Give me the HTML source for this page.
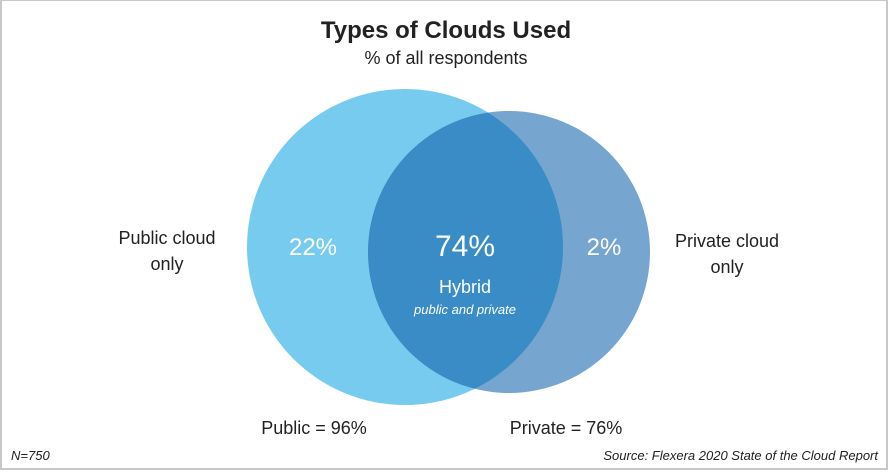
<!DOCTYPE html>
<html><head><meta charset="utf-8"><style>
html,body{margin:0;padding:0;background:#fff;}
body{width:891px;height:473px;overflow:hidden;position:relative;font-family:"Liberation Sans",sans-serif;}
</style></head><body>
<svg width="891" height="473" viewBox="0 0 891 473" xmlns="http://www.w3.org/2000/svg" style="position:absolute;left:0;top:0">
<rect x="1" y="0" width="886" height="469" fill="#fff" stroke="#c8c8c8" stroke-width="2"/>
<defs><clipPath id="cl"><circle cx="405" cy="247" r="158"/></clipPath></defs>
<circle cx="405" cy="247" r="158" fill="#77cbee"/>
<circle cx="509" cy="252" r="141" fill="#76a5d0"/>
<circle cx="509" cy="252" r="141" fill="#3a8cc6" clip-path="url(#cl)"/>
<g font-family="Liberation Sans, sans-serif" text-anchor="middle">
<text x="446" y="38" font-size="24" font-weight="bold" fill="#222">Types of Clouds Used</text>
<text x="446" y="64" font-size="18" fill="#222">% of all respondents</text>
<text x="167" y="244" font-size="18" fill="#222">Public cloud</text>
<text x="167" y="270" font-size="18" fill="#222">only</text>
<text x="727" y="247" font-size="18" fill="#222">Private cloud</text>
<text x="727" y="273" font-size="18" fill="#222">only</text>
<text x="313" y="255" font-size="24" fill="#fff">22%</text>
<text x="604" y="255" font-size="24" fill="#fff">2%</text>
<text x="465" y="256" font-size="30" fill="#fff">74%</text>
<text x="465" y="293" font-size="18" fill="#fff">Hybrid</text>
<text x="465" y="314" font-size="13" font-style="italic" fill="#fff">public and private</text>
<text x="314" y="434" font-size="18" fill="#222">Public = 96%</text>
<text x="566" y="434" font-size="18" fill="#222">Private = 76%</text>
</g>
<text x="11" y="460" font-size="13" font-style="italic" fill="#222" font-family="Liberation Sans, sans-serif">N=750</text>
<text x="878" y="460" font-size="13" font-style="italic" fill="#222" text-anchor="end" font-family="Liberation Sans, sans-serif">Source: Flexera 2020 State of the Cloud Report</text>
</svg>
</body></html>
